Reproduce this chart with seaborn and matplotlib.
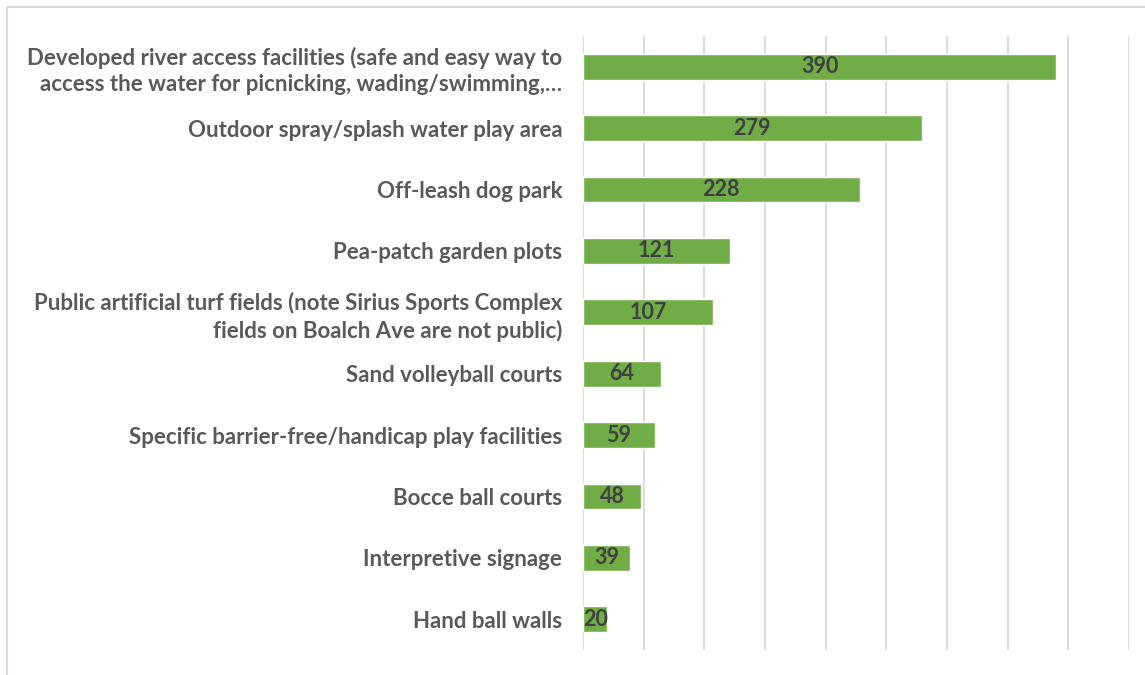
import matplotlib
matplotlib.use("Agg")
import matplotlib.pyplot as plt
import seaborn as sns
import pandas as pd
from matplotlib.lines import Line2D

# chart data
categories = [
    "Developed river access facilities (safe and easy way to\naccess the water for picnicking, wading/swimming,\u2026",
    "Outdoor spray/splash water play area",
    "Off-leash dog park",
    "Pea-patch garden plots",
    "Public artificial turf fields (note Sirius Sports Complex\nfields on Boalch Ave are not public)",
    "Sand volleyball courts",
    "Specific barrier-free/handicap play facilities",
    "Bocce ball courts",
    "Interpretive signage",
    "Hand ball walls",
]
votes = [390, 279, 228, 121, 107, 64, 59, 48, 39, 20]

df = pd.DataFrame({"category": categories, "votes": votes})

sns.set_theme(style="white")
plt.rcParams["font.family"] = ["Lato", "DejaVu Sans"]

fig = plt.figure(figsize=(11.45, 6.75), dpi=100)
ax = fig.add_axes([583 / 1145, 1 - 650 / 675, (1129 - 583) / 1145, (650 - 36) / 675])

sns.barplot(data=df, x="votes", y="category", color="#70ad47", saturation=1,
            width=0.42, ax=ax)

ax.set_xlim(0, 450)
ax.set_xticks(range(0, 451, 50))
ax.set_xticklabels([])
ax.grid(axis="x", color="#d9d9d9", linewidth=1.3)
ax.set_axisbelow(True)
ax.tick_params(axis="both", length=0)
ax.tick_params(axis="y", pad=15)
for s in ax.spines.values():
    s.set_visible(False)
ax.set_xlabel("")
ax.set_ylabel("")

for lab in ax.get_yticklabels():
    lab.set_fontsize(16)
    lab.set_fontweight("bold")
    lab.set_color("#595959")
    lab.set_horizontalalignment("right")
    lab.set_multialignment("right")
    lab.set_linespacing(1.3)

ax.bar_label(ax.containers[0], label_type="center", fontsize=15.5,
             fontweight="bold", color="#404040")

# outer chart frame (cropped)
fig.add_artist(Line2D([7 / 1145, 7 / 1145], [0, 1 - 7 / 675], transform=fig.transFigure,
                      color="#d9d9d9", linewidth=1.5))
fig.add_artist(Line2D([7 / 1145, 1], [1 - 7 / 675, 1 - 7 / 675], transform=fig.transFigure,
                      color="#d9d9d9", linewidth=1.5))

fig.savefig("out.png", dpi=100)
